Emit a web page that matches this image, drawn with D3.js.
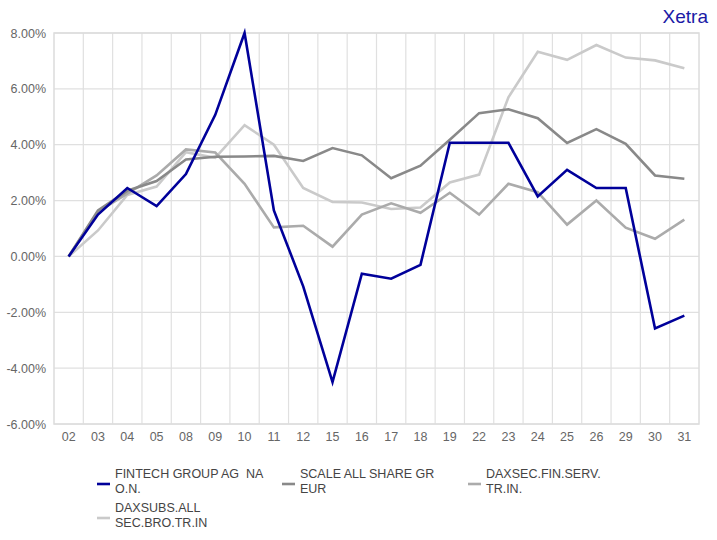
<!DOCTYPE html>
<html>
<head>
<meta charset="utf-8">
<script src="https://cdn.jsdelivr.net/npm/d3@7"></script>
<style>
  body { margin: 0; background: #fff; }
  svg { font-family: "Liberation Sans", Arial, sans-serif; }
  .legend text { white-space: pre; }
</style>
</head>
<body>
<div id="chart"></div>
<script>
// Tageskategorien (X-Achse)
const days = ["02","03","04","05","08","09","10","11","12","15","16","17","18","19","22","23","24","25","26","29","30","31"];

// Werte in %
const fintech = [0, 1.5, 2.45, 1.8, 2.95, 5.07, 8.0, 1.65, -1.07, -4.5, -0.62, -0.8, -0.3, 4.07, 4.07, 4.07, 2.15, 3.1, 2.45, 2.45, -2.58, -2.12];
const scaleAll = [0, 1.65, 2.35, 2.7, 3.47, 3.57, 3.58, 3.6, 3.42, 3.88, 3.62, 2.8, 3.25, 4.18, 5.13, 5.27, 4.95, 4.06, 4.56, 4.03, 2.9, 2.78];
const daxsecFin = [0, 1.6, 2.25, 2.9, 3.83, 3.72, 2.6, 1.04, 1.1, 0.35, 1.5, 1.9, 1.56, 2.28, 1.5, 2.6, 2.3, 1.14, 2.0, 1.03, 0.63, 1.32];
const daxsubsBro = [0, 0.93, 2.2, 2.5, 3.73, 3.53, 4.7, 4.0, 2.45, 1.95, 1.93, 1.7, 1.75, 2.65, 2.93, 5.7, 7.33, 7.04, 7.57, 7.12, 7.02, 6.74];

const yTicks = [-6, -4, -2, 0, 2, 4, 6, 8];

const seriesColors = ["#00009a", "#898989", "#ababab", "#cacaca"];
const seriesValues = [fintech, scaleAll, daxsecFin, daxsubsBro];
// Legendentext zweizeilig wie im Original
const legendLines = [["FINTECH GROUP AG  NA", "O.N."], ["SCALE ALL SHARE GR", "EUR"], ["DAXSEC.FIN.SERV.", "TR.IN."], ["DAXSUBS.ALL", "SEC.BRO.TR.IN"]];

const width = 717, height = 540;
const margin = { top: 33, right: 18, bottom: 116, left: 54 };

const svg = d3.select("#chart").append("svg")
  .attr("width", width)
  .attr("height", height);

const x = d3.scaleBand()
  .domain(days)
  .range([margin.left, width - margin.right]);

const y = d3.scaleLinear()
  .domain([-6, 8])
  .range([height - margin.bottom, margin.top]);

// Gitter horizontal
svg.append("g")
  .selectAll("line")
  .data(yTicks)
  .join("line")
  .attr("x1", margin.left)
  .attr("x2", width - margin.right)
  .attr("y1", d => y(d))
  .attr("y2", d => y(d))
  .attr("stroke", "#e0e0e0")
  .attr("stroke-width", 1.2);

// Gitter vertikal (Bandgrenzen)
svg.append("g")
  .selectAll("line")
  .data(days.slice(1))
  .join("line")
  .attr("x1", d => x(d))
  .attr("x2", d => x(d))
  .attr("y1", margin.top)
  .attr("y2", height - margin.bottom)
  .attr("stroke", "#e0e0e0")
  .attr("stroke-width", 1.2);

// Rahmen
svg.append("rect")
  .attr("x", margin.left)
  .attr("y", margin.top)
  .attr("width", width - margin.left - margin.right)
  .attr("height", height - margin.top - margin.bottom)
  .attr("fill", "none")
  .attr("stroke", "#dcdcdc")
  .attr("stroke-width", 1.5);

// Y-Achse
const yAxis = svg.append("g")
  .attr("transform", `translate(${margin.left},0)`)
  .call(d3.axisLeft(y).tickValues(yTicks).tickSize(0).tickPadding(8).tickFormat(d => d.toFixed(2) + "%"));
yAxis.select(".domain").remove();
yAxis.selectAll("text").attr("fill", "#666").attr("font-size", 12.5).attr("font-family", "Liberation Sans, Arial, sans-serif");

// X-Achse
const xAxis = svg.append("g")
  .attr("transform", `translate(0,${height - margin.bottom})`)
  .call(d3.axisBottom(x).tickSize(0).tickPadding(8));
xAxis.select(".domain").remove();
xAxis.selectAll("text").attr("fill", "#666").attr("font-size", 12.5).attr("font-family", "Liberation Sans, Arial, sans-serif");

// Linien
const line = d3.line()
  .x((d, i) => x(days[i]) + x.bandwidth() / 2)
  .y(d => y(d));

// hellste zuerst, damit die blaue Linie oben liegt
[3, 2, 1, 0].forEach(k => {
  svg.append("path")
    .datum(seriesValues[k])
    .attr("fill", "none")
    .attr("stroke", seriesColors[k])
    .attr("stroke-width", 2.6)
    .attr("stroke-linejoin", "miter")
    .attr("d", line);
});

// Titel
svg.append("text")
  .attr("x", 708)
  .attr("y", 23)
  .attr("text-anchor", "end")
  .attr("fill", "#1a1aa6")
  .attr("font-size", 19)
  .text("Xetra");

// Legende
const legendPos = [[97, 478], [282, 478], [468, 478], [97, 512]];
const legend = svg.append("g").attr("class", "legend");
legendLines.forEach((lines, i) => {
  const [lx, ly] = legendPos[i];
  const g = legend.append("g").attr("transform", `translate(${lx},${ly})`);
  g.append("line")
    .attr("x1", 0).attr("x2", 13)
    .attr("y1", 6).attr("y2", 6)
    .attr("stroke", seriesColors[i])
    .attr("stroke-width", 2.6);
  g.append("text")
    .attr("x", 18)
    .attr("y", 0)
    .attr("fill", "#444")
    .attr("font-size", 12.5)
    .selectAll("tspan")
    .data(lines)
    .join("tspan")
    .attr("x", 18)
    .attr("dy", (d, j) => j === 0 ? 0 : 14.5)
    .text(d => d);
});
</script>
</body>
</html>
